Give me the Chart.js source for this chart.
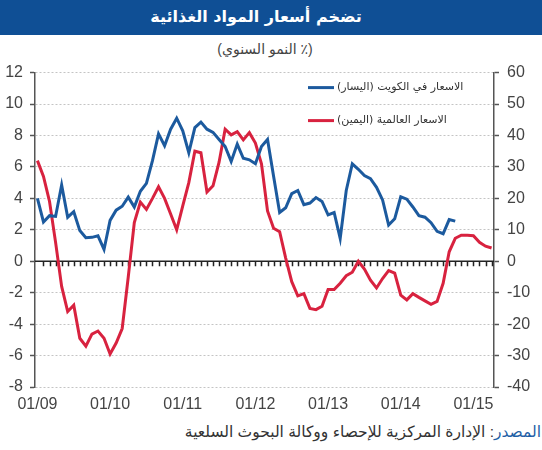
<!DOCTYPE html>
<html lang="ar">
<head>
<meta charset="UTF-8">
<title>تضخم أسعار المواد الغذائية</title>
<script src="https://cdn.jsdelivr.net/npm/chart.js"></script>
<style>
  body { margin: 0; width: 542px; height: 450px; background: #fff; font-family: "Liberation Sans", "DejaVu Sans", sans-serif; position: relative; overflow: hidden; }
  #title { position: absolute; left: 0; top: 0; width: 512px; padding-right: 30px; height: 35px; background: #0f4f95; color: #fff; font-family: "DejaVu Sans", sans-serif; font-weight: bold; font-size: 16px; text-align: center; line-height: 34px; direction: rtl; }
  #sub { position: absolute; left: 0; top: 41px; width: 530px; padding-right: 12px; text-align: center; font-size: 14px; color: #444; direction: rtl; }
  #box { position: absolute; left: 0; top: 55px; width: 542px; height: 365px; }
  #src { position: absolute; right: 1px; top: 423px; font-size: 15.5px; color: #333; direction: rtl; white-space: nowrap; }
  #src span { color: #1f5fa6; }
</style>
</head>
<body>
<div id="title">تضخم أسعار المواد الغذائية</div>
<div id="sub">(٪ النمو السنوي)</div>
<div id="box"><canvas id="myChart"></canvas></div>
<div id="src"><span>المصدر</span>: الإدارة المركزية للإحصاء ووكالة البحوث السلعية</div>
<script>
// months since 01/09, one point per month
var yearTicks = ['01/09', '01/10', '01/11', '01/12', '01/13', '01/14', '01/15'];
var legendNames = ['الاسعار في الكويت (اليسار)', 'الاسعار العالمية (اليمين)'];

// Kuwait food prices, % y/y (left axis)
var kuwait = [4.0, 2.5, 2.9, 2.85, 4.85, 2.8, 3.15, 1.95, 1.5, 1.52, 1.62, 0.75,
  2.6, 3.25, 3.5, 4.08, 3.45, 4.45, 4.95, 6.4, 8.1, 7.35, 8.4, 9.1,
  8.3, 6.9, 8.5, 8.85, 8.4, 8.2, 7.75, 7.3, 6.35, 7.45, 6.55, 6.45,
  6.2, 7.3, 7.75, 5.4, 3.1, 3.4, 4.3, 4.5, 3.6, 3.7, 4.05, 3.8,
  2.95, 3.1, 1.45, 4.5, 6.2, 5.85, 5.45, 5.25, 4.7, 3.9, 2.3, 2.7,
  4.1, 3.95, 3.45, 2.9, 2.8, 2.45, 1.9, 1.75, 2.65, 2.55];

// world food prices, % y/y (right axis)
var world = [32, 27, 19, 6, -8, -16, -14, -24.5, -27, -23.2, -22.2, -24.5,
  -29.5, -26, -21.4, -5, 12.3, 18.8, 16.5, 20, 23.7, 20, 15, 10,
  17.6, 25, 35, 34.5, 22, 24, 31.5, 42, 40.2, 41.2, 38.6, 40.9,
  37.6, 31, 16, 10.5, 9.4, 1, -6.5, -11, -10.3, -15, -15.4, -14.3,
  -9, -9, -7, -4.6, -3.5, 0, -2.5, -6, -8.5, -5.5, -3, -3.8,
  -10.8, -12.3, -10.3, -11.5, -12.6, -13.7, -12.8, -7, 3, 7.3, 8.3, 8.3,
  8.1, 6, 4.8, 4.2];

var months = world.map((v, i) => i);
var blue = '#1c5a9e';
var red = '#d8223f';

const overlay = {
  id: 'overlay',
  beforeDatasetsDraw(chart) {
    const {ctx, chartArea: a, scales: {x, yL}} = chart;
    const y0 = yL.getPixelForValue(0);
    ctx.save();
    ctx.strokeStyle = '#222';
    ctx.lineWidth = 1.5;
    ctx.beginPath();
    ctx.moveTo(a.left, y0);
    ctx.lineTo(a.right, y0);
    for (let i = 1; i < months.length; i++) {
      const px = Math.round(x.getPixelForValue(i)) + 0.5;
      ctx.moveTo(px, y0);
      ctx.lineTo(px, y0 + 5);
    }
    ctx.stroke();
    ctx.restore();
  },
  afterDraw(chart) {
    const {ctx, chartArea: a} = chart;
    const cols = [blue, red];
    ctx.save();
    ctx.font = '11px "DejaVu Sans", sans-serif';
    ctx.fillStyle = '#333';
    ctx.textBaseline = 'middle';
    ctx.direction = 'rtl';
    ctx.textAlign = 'left';
    for (let k = 0; k < 2; k++) {
      const y = a.top + 15 + k * 33;
      ctx.strokeStyle = cols[k];
      ctx.lineWidth = 3;
      ctx.beginPath();
      ctx.moveTo(a.left + 273, y);
      ctx.lineTo(a.left + 299, y);
      ctx.stroke();
      ctx.fillText(legendNames[k], a.left + 302, y);
    }
    ctx.restore();
  }
};

const tickFont = {family: '"Liberation Sans", Arial, sans-serif', size: 16};

new Chart(document.getElementById('myChart'), {
  type: 'line',
  data: {
    labels: months,
    datasets: [
      {label: legendNames[0], data: kuwait, yAxisID: 'yL', borderColor: blue, borderWidth: 3, pointRadius: 0, tension: 0, fill: false},
      {label: legendNames[1], data: world, yAxisID: 'yR', borderColor: red, borderWidth: 3, pointRadius: 0, tension: 0, fill: false}
    ]
  },
  options: {
    responsive: true,
    maintainAspectRatio: false,
    animation: false,
    layout: {padding: {top: 11, left: 0, right: 0, bottom: 0}},
    plugins: {legend: {display: false}, tooltip: {enabled: false}},
    scales: {
      x: {
        type: 'linear',
        min: -0.4,
        max: 75.4,
        afterBuildTicks: s => { s.ticks = yearTicks.map((t, i) => ({value: i * 12})); },
        afterFit: s => { s.height = 33; },
        border: {display: false},
        grid: {display: false, drawTicks: false},
        ticks: {color: '#444', font: tickFont, padding: 8, autoSkip: false, maxRotation: 0,
          callback: v => yearTicks[v / 12]}
      },
      yL: {
        position: 'left',
        min: -8, max: 12,
        afterFit: s => { s.width = 35; },
        border: {display: true, color: '#555', width: 1.5, dash: [2, 2]},
        grid: {color: '#c4c4c4', lineWidth: 1, tickLength: 5, tickColor: '#555', tickWidth: 1.5, tickBorderDash: []},
        ticks: {stepSize: 2, color: '#444', font: tickFont, padding: 7}
      },
      yR: {
        position: 'right',
        min: -40, max: 60,
        afterFit: s => { s.width = 48; },
        border: {display: true, color: '#555', width: 1.5},
        grid: {drawOnChartArea: false, tickLength: 5, tickColor: '#555', tickWidth: 1.5},
        ticks: {stepSize: 10, color: '#444', font: tickFont, padding: 8}
      }
    }
  },
  plugins: [overlay]
});
</script>
</body>
</html>
